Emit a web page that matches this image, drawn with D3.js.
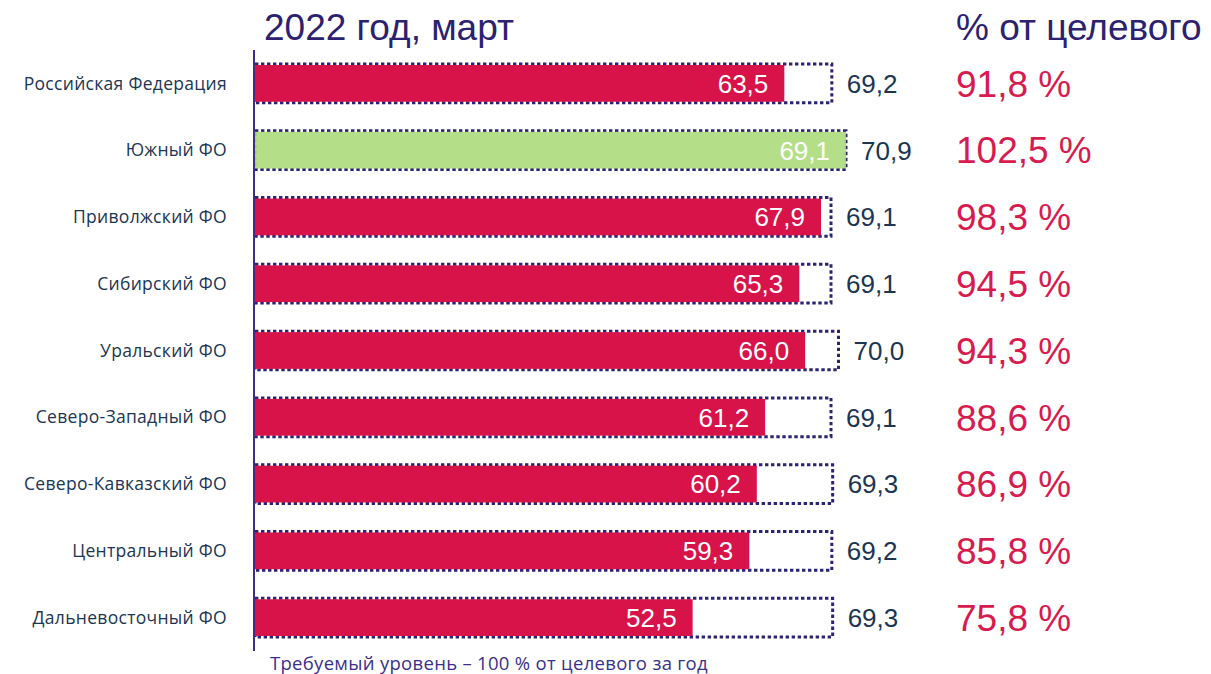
<!DOCTYPE html>
<html lang="ru">
<head>
<meta charset="utf-8">
<script src="https://cdn.jsdelivr.net/npm/d3@7"></script>
<style>
  html, body { margin: 0; padding: 0; background: #fff; }
  svg { display: block; }
</style>
</head>
<body>
<svg id="chart" width="1211" height="674"></svg>
<script>
/* Доля от целевого уровня по федеральным округам — март 2022.
   Bar = fact, dotted frame = target; right column = % of target. */
const REGIONS = ["Российская Федерация", "Южный ФО", "Приволжский ФО", "Сибирский ФО", "Уральский ФО",
  "Северо-Западный ФО", "Северо-Кавказский ФО", "Центральный ФО", "Дальневосточный ФО"];
const FACT = [63.5, 69.1, 67.9, 65.3, 66.0, 61.2, 60.2, 59.3, 52.5];
const TARGET = [69.2, 70.9, 69.1, 69.1, 70.0, 69.1, 69.3, 69.2, 69.3];
const PCT = [91.8, 102.5, 98.3, 94.5, 94.3, 88.6, 86.9, 85.8, 75.8];
const TITLE = "2022 год, март";
const PCT_TITLE = "% от целевого";
const FOOTNOTE = "Требуемый уровень – 100 % от целевого за год";

const C = { red: "#D8134A", green: "#ADDA7C", frame: "#2B2473", navy: "#1B3552", indigo: "#2B2170", pct: "#D81B4F" };
const fmt = v => v.toFixed(1).replace(".", ",");
const ARIAL = "'Liberation Sans', Arial, sans-serif";
const SANS = "'Open Sans', 'Noto Sans', sans-serif";

const rows = REGIONS.map((name, i) => ({ name, fact: FACT[i], target: TARGET[i], pct: PCT[i] }));
const svg = d3.select("#chart");

const x = d3.scaleLinear().domain([0, d3.max(TARGET)]).range([255, 846]);
const y = d3.scaleBand().domain(REGIONS).range([50, 651]).paddingInner(0.45).paddingOuter(0.225);
const mid = d => y(d.name) + y.bandwidth() / 2;
// over 100 % the bar fills the whole target frame
const barEnd = d => d.pct >= 100 ? d.target : d.fact;

// ---------- target frames (dotted) ----------
svg.append("g").selectAll("rect").data(rows).join("rect")
  .attr("x", x(0)).attr("y", d => y(d.name) - 1)
  .attr("width", d => x(d.target) - x(0)).attr("height", y.bandwidth() + 2)
  .attr("fill", "none").attr("stroke", C.frame).attr("stroke-width", 3)
  .attr("stroke-dasharray", "3.4,2.6");

// ---------- fact bars ----------
svg.append("g").selectAll("rect").data(rows).join("rect")
  .attr("x", x(0)).attr("y", d => y(d.name))
  .attr("width", d => x(barEnd(d)) - x(0)).attr("height", y.bandwidth())
  .attr("fill", d => d.pct >= 100 ? C.green : C.red)
  .attr("fill-opacity", d => d.pct >= 100 ? 0.9 : 1);

// ---------- axis line ----------
svg.append("line").attr("x1", x(0) - 1).attr("x2", x(0) - 1).attr("y1", 50).attr("y2", 651)
  .attr("stroke", "#3A2F8C").attr("stroke-width", 2);

// ---------- labels ----------
svg.append("g").selectAll("text").data(rows).join("text")
  .attr("x", 227).attr("y", d => mid(d)).attr("dy", "0.35em").attr("text-anchor", "end")
  .attr("font-family", SANS).attr("font-size", 17.5).attr("letter-spacing", 0.3)
  .attr("fill", C.navy).text(d => d.name);

svg.append("g").selectAll("text").data(rows).join("text")
  .attr("x", d => x(barEnd(d)) - 16).attr("y", d => mid(d)).attr("dy", "0.36em").attr("text-anchor", "end")
  .attr("font-family", ARIAL).attr("font-size", 26)
  .attr("fill", "#fff").text(d => fmt(d.fact));

svg.append("g").selectAll("text").data(rows).join("text")
  .attr("x", d => x(d.target) + 15).attr("y", d => mid(d)).attr("dy", "0.36em")
  .attr("font-family", ARIAL).attr("font-size", 26)
  .attr("fill", C.navy).text(d => fmt(d.target));

svg.append("g").selectAll("text").data(rows).join("text")
  .attr("x", 956).attr("y", d => mid(d)).attr("dy", "0.36em")
  .attr("font-family", ARIAL).attr("font-size", 37)
  .attr("fill", C.pct).text(d => fmt(d.pct) + " %");

// ---------- titles ----------
svg.append("text").attr("x", 264).attr("y", 40)
  .attr("font-family", ARIAL).attr("font-size", 37)
  .attr("fill", C.indigo).text(TITLE);
svg.append("text").attr("x", 956).attr("y", 40)
  .attr("font-family", ARIAL).attr("font-size", 37)
  .attr("fill", C.indigo).text(PCT_TITLE);

svg.append("text").attr("x", 270).attr("y", 670)
  .attr("font-family", SANS).attr("font-size", 18.5).attr("letter-spacing", 0.3)
  .attr("fill", "#3A2F8C").text(FOOTNOTE);
</script>
</body>
</html>
